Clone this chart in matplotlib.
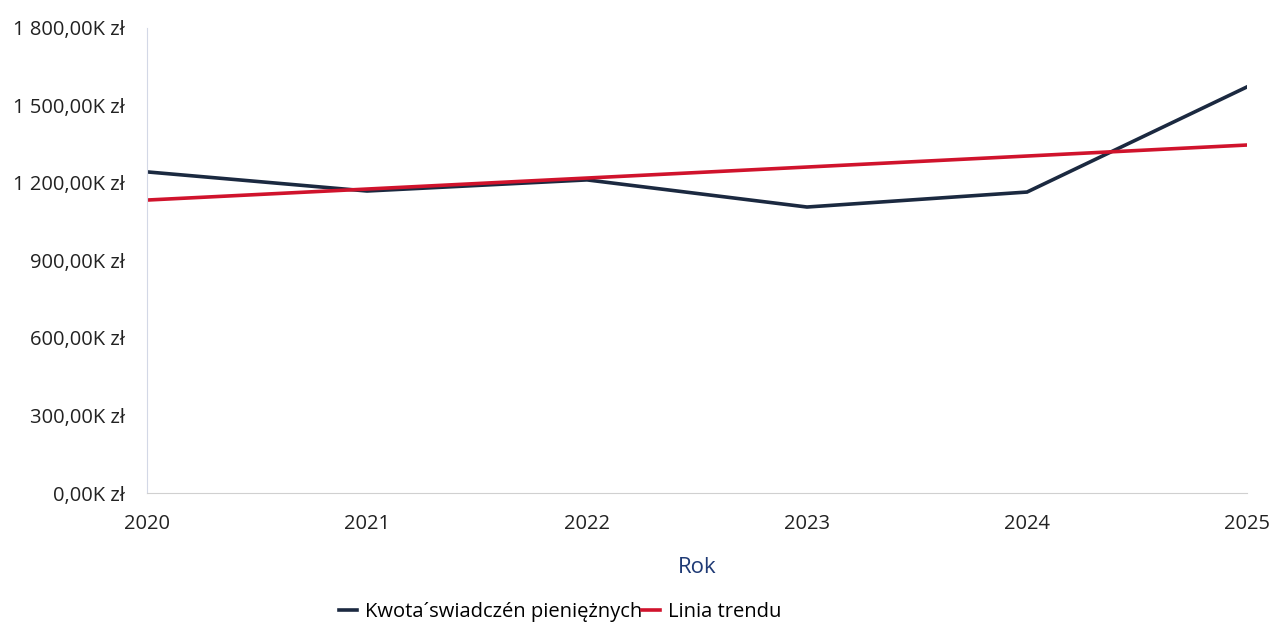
import matplotlib

matplotlib.use("Agg")
import matplotlib.pyplot as plt
from matplotlib.ticker import FuncFormatter

# values in thousands of zł
years = [2020, 2021, 2022, 2023, 2024, 2025]
kwota = [1243, 1169, 1212, 1107, 1165, 1572]
trend_years = [2020, 2025]
trend_vals = [1134, 1347]
y_ticks = [0, 300, 600, 900, 1200, 1500, 1800]

plt.rcParams["font.family"] = ["Open Sans", "DejaVu Sans"]

fig = plt.figure(figsize=(12.74, 6.25), dpi=100)
ax = fig.add_axes([147 / 1274, 1 - 493 / 625, 1100 / 1274, 465 / 625])

ax.plot(years, kwota, color="#1b2940", lw=2.6, solid_joinstyle="miter",
        label="Kwota\u00b4swiadczén pieniężnych")
ax.plot(trend_years, trend_vals, color="#d0132c", lw=2.6, label="Linia trendu")

ax.set_xlim(2020, 2025)
ax.set_ylim(0, 1800)
ax.set_xticks(years)
ax.set_yticks(y_ticks)


def fmt(v, _pos):
    s = f"{v:,.2f}".replace(",", " ").replace(".", ",")
    return f"{s}K zł"


ax.yaxis.set_major_formatter(FuncFormatter(fmt))
ax.tick_params(length=0, labelsize=14.5, colors="#222222")
ax.tick_params(axis="y", pad=16)
ax.tick_params(axis="x", pad=15)

for side in ("top", "right"):
    ax.spines[side].set_visible(False)
ax.spines["left"].set_color("#d3d8e6")
ax.spines["bottom"].set_color("#d0d0d0")

ax.set_xlabel("Rok", fontsize=16, color="#1f3a75", labelpad=17)

fig.legend(loc="center", bbox_to_anchor=(560 / 1274, 1 - 612 / 625), ncol=2,
           frameon=False, fontsize=14.5, handlelength=0.9, handletextpad=0.4,
           columnspacing=0.0)

fig.savefig("out.png", dpi=100)
plt.close(fig)
